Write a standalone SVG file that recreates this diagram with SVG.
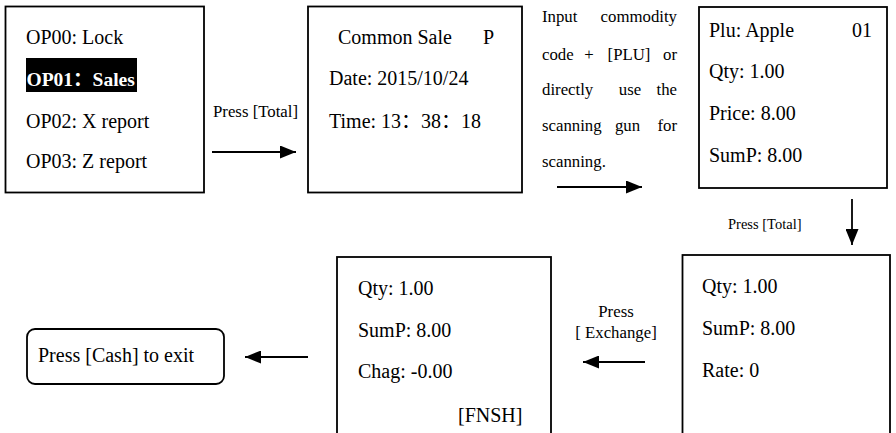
<svg xmlns="http://www.w3.org/2000/svg" width="896" height="433" viewBox="0 0 896 433">
<style>
.box{fill:#fff;stroke:#000;stroke-width:1.8}
text{font-family:"Liberation Serif","Times New Roman","Noto Sans CJK SC",serif;fill:#000}
.t{font-size:20px}
.l{font-size:16.8px}
.s{font-size:14.5px}
.w{fill:#fff;font-weight:bold;font-size:19.5px}
.c{stroke:#000;stroke-width:1.8;fill:none}
</style>
<defs>
<marker id="ah" viewBox="0 0 10 10" refX="10" refY="5" markerWidth="16" markerHeight="13" markerUnits="userSpaceOnUse" orient="auto" preserveAspectRatio="none">
<path d="M0,0 L10,5 L0,10 Z" fill="#000"/>
</marker>
</defs>
<rect width="896" height="433" fill="#fff"/>
<g id="n1">
<rect class="box" x="5.5" y="6.5" width="198.5" height="186"/>
<text class="t" x="26" y="44">OP00: Lock</text>
<rect x="26" y="58" width="111" height="34" fill="#000"/>
<text class="w" x="26.5" y="86">OP01：Sales</text>
<text class="t" x="26" y="128">OP02: X report</text>
<text class="t" x="26" y="168">OP03: Z report</text>
</g>
<g id="n2">
<rect class="box" x="308" y="6.5" width="214" height="186"/>
<text class="t" x="338" y="44">Common Sale</text>
<text class="t" x="483" y="44">P</text>
<text class="t" x="329" y="85">Date: 2015/10/24</text>
<text class="t" x="329" y="128">Time: 13：38：18</text>
</g>
<g id="n3">
<rect class="box" x="699" y="7" width="188" height="181"/>
<text class="t" x="709" y="37">Plu: Apple</text>
<text class="t" x="852" y="37">01</text>
<text class="t" x="709" y="78">Qty: 1.00</text>
<text class="t" x="709" y="120">Price: 8.00</text>
<text class="t" x="709" y="162">SumP: 8.00</text>
</g>
<g id="n4">
<rect class="box" x="682.5" y="255" width="207.5" height="190"/>
<text class="t" x="702" y="293">Qty: 1.00</text>
<text class="t" x="702" y="335">SumP: 8.00</text>
<text class="t" x="702" y="377">Rate: 0</text>
</g>
<g id="n5">
<rect class="box" x="337" y="257" width="214" height="190"/>
<text class="t" x="358" y="295">Qty: 1.00</text>
<text class="t" x="358" y="337">SumP: 8.00</text>
<text class="t" x="358" y="378">Chag: -0.00</text>
<text class="t" x="458" y="422">[FNSH]</text>
</g>
<g id="n6">
<rect class="box" x="27" y="329" width="197" height="55" rx="8"/>
<text class="t" x="38" y="362">Press [Cash] to exit</text>
</g>
<g id="connectors">
<line class="c" x1="212" y1="152" x2="296" y2="152" marker-end="url(#ah)"/>
<text class="l" x="213" y="117">Press [Total]</text>
<line class="c" x1="557" y1="187" x2="642" y2="187" marker-end="url(#ah)"/>
<text class="l"><tspan x="542" y="22">Input</tspan><tspan x="677" y="22" text-anchor="end">commodity</tspan></text>
<text class="l"><tspan x="542" y="60">code</tspan><tspan x="589" y="60" text-anchor="middle">+</tspan><tspan x="629" y="60" text-anchor="middle">[PLU]</tspan><tspan x="677" y="60" text-anchor="end">or</tspan></text>
<text class="l"><tspan x="542" y="95">directly</tspan><tspan x="630" y="95" text-anchor="middle">use</tspan><tspan x="677" y="95" text-anchor="end">the</tspan></text>
<text class="l"><tspan x="542" y="131">scanning</tspan><tspan x="627.5" y="131" text-anchor="middle">gun</tspan><tspan x="677" y="131" text-anchor="end">for</tspan></text>
<text class="l" x="542" y="167">scanning.</text>
<line class="c" x1="852" y1="199" x2="852" y2="245" marker-end="url(#ah)"/>
<text class="s" x="728" y="229">Press [Total]</text>
<line class="c" x1="645" y1="362" x2="583" y2="362" marker-end="url(#ah)"/>
<text class="l" x="616" y="317" text-anchor="middle">Press</text>
<text class="l" x="616" y="338" text-anchor="middle">[ Exchange]</text>
<line class="c" x1="308" y1="357" x2="245" y2="357" marker-end="url(#ah)"/>
</g>
</svg>
